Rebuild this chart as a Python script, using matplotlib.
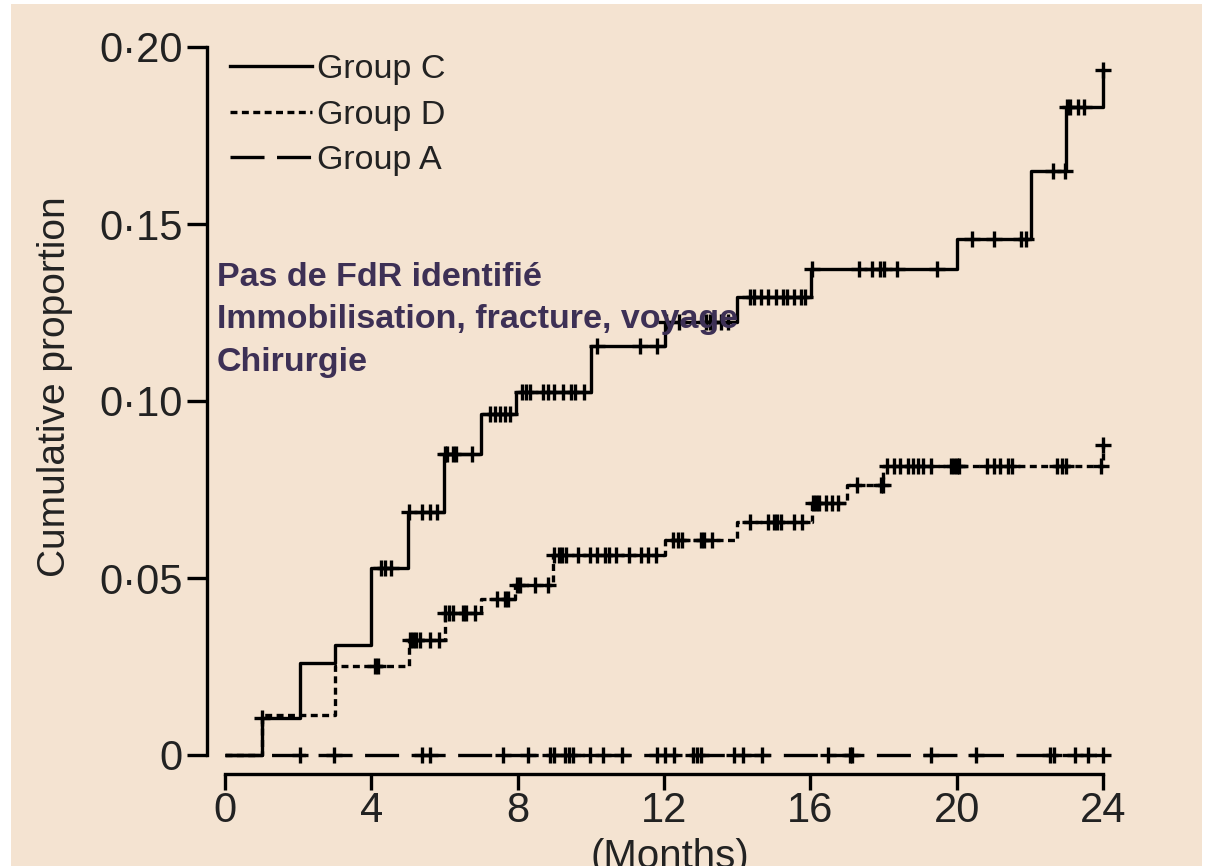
import matplotlib
matplotlib.use('Agg')
import matplotlib.pyplot as plt
import numpy as np
from matplotlib.lines import Line2D
from matplotlib.patches import Rectangle

plt.rcParams['font.family'] = ['Liberation Sans', 'DejaVu Sans']
plt.rcParams['lines.scale_dashes'] = False

# ---------------- data ----------------
x_ticks = [0, 4, 8, 12, 16, 20, 24]
y_ticks = [0, 0.05, 0.10, 0.15, 0.20]
y_tick_labels = ['0', '0\u00b705', '0\u00b710', '0\u00b715', '0\u00b720']
legend_labels = ['Group C', 'Group D', 'Group A']
annotation_lines = ['Pas de FdR identifi\u00e9', 'Immobilisation, fracture, voyage', 'Chirurgie']

# Group C (solid)
c_times = [1.0, 2.05, 3.0, 4.0, 5.0, 5.99, 7.0, 7.95, 10.0, 12.04, 14.0, 16.03, 20.0, 22.02, 23.0, 23.99]
c_vals = [0.0104, 0.0259, 0.0311, 0.0527, 0.0687, 0.0850, 0.0962, 0.1026, 0.1155, 0.1222,
          0.1295, 0.1372, 0.1458, 0.1649, 0.1831, 0.1935]
c_end = 24.0
c_censor = [1.0, 4.27, 4.37, 4.55, 5.02, 5.38, 5.6, 5.79, 6.0, 6.06, 6.22, 6.31, 6.74,
            7.24, 7.38, 7.52, 7.66, 7.79, 8.13, 8.23, 8.33, 8.7, 8.82, 8.98, 9.25, 9.47, 9.58, 9.82,
            10.18, 11.35, 11.8, 12.06, 12.4, 13.15, 13.25, 13.38, 13.55, 13.75,
            14.35, 14.45, 14.65, 14.85, 15.05, 15.25, 15.35, 15.55, 15.75, 15.85,
            16.05, 17.33, 17.69, 17.9, 18.02, 18.37, 19.46, 20.42, 21.02, 21.77, 21.9,
            22.63, 22.97, 23.02, 23.1, 23.31, 23.47, 24.0]

# Group D (short dashes)
d_times = [1.0, 3.0, 5.04, 6.0, 7.0, 7.92, 8.97, 12.03, 14.0, 16.05, 17.0, 18.0, 23.99]
d_vals = [0.0113, 0.0251, 0.0325, 0.0400, 0.0440, 0.0480, 0.0565, 0.0607, 0.0659, 0.0713,
          0.0763, 0.0816, 0.0876]
d_end = 24.0
d_censor = [4.1, 4.18, 5.07, 5.15, 5.23, 5.32, 5.6, 5.86, 6.0, 6.12, 6.22, 6.51, 6.6, 6.83,
            7.43, 7.65, 7.74, 7.97, 8.07, 8.47, 8.84, 8.98, 9.13, 9.22, 9.31, 9.66, 9.98, 10.16,
            10.4, 10.5, 10.69, 11.03, 11.37, 11.57, 11.78, 12.24, 12.38, 12.48, 13.0, 13.1, 13.3,
            14.35, 14.85, 15.0, 15.1, 15.2, 15.54, 15.77, 16.07, 16.15, 16.24, 16.42, 16.58, 16.75,
            17.27, 17.92, 17.98, 18.09, 18.29, 18.45, 18.68, 18.8, 18.95, 19.08, 19.3,
            19.85, 19.93, 20.0, 20.07, 20.84, 21.02, 21.19, 21.4, 21.52, 22.74, 22.88, 22.98,
            23.94, 24.0]

# Group A (long dashes, no events)
a_times = []
a_vals = []
a_end = 24.0
a_censor = [2.05, 2.99, 5.38, 5.6, 7.61, 8.29, 8.88, 8.98, 9.3, 9.4, 9.5, 9.98, 10.34, 10.84,
            11.8, 12.03, 12.26, 12.8, 12.9, 13.0, 13.9, 14.17, 14.67, 16.49, 17.08, 17.15,
            19.3, 20.53, 22.55, 22.65, 23.24, 23.58, 24.0]

# ---------------- style ----------------
W, H = 1208, 866
BG = '#F4E3D1'
TXT = '#222222'
PURPLE = '#3d3055'
LW = 2.4
styles = {
    'C': dict(linestyle='-'),
    'D': dict(linestyle=(0, (5.0, 3.2))),
    'A': dict(linestyle=(0, (24.5, 9.0))),
}

fig = plt.figure(figsize=(W / 100, H / 100), dpi=100, facecolor='white')
fig.patches.append(Rectangle((11 / W, 0), (1202 - 11) / W, (866 - 4) / H,
                             transform=fig.transFigure, facecolor=BG,
                             edgecolor='none', zorder=-10))

ax = fig.add_axes([225 / W, 1 - 755 / H, 878 / W, 708 / H])
ax.patch.set_visible(False)
ax.set_xlim(0, 24)
ax.set_ylim(0, 0.2)


def km_xy(times, vals, end):
    x = np.r_[0.0, np.asarray(times, float), end]
    y = np.r_[0.0, np.asarray(vals, float), (vals[-1] if len(vals) else 0.0)]
    return x, y


def censor_xy(times, vals, ct):
    ct = np.asarray(ct, float)
    idx = np.searchsorted(np.asarray(times, float), ct, side='right')
    levels = np.r_[0.0, np.asarray(vals, float)]
    return ct, levels[idx]


for key, (t, v, e, cs) in {'A': (a_times, a_vals, a_end, a_censor),
                           'D': (d_times, d_vals, d_end, d_censor),
                           'C': (c_times, c_vals, c_end, c_censor)}.items():
    x, y = km_xy(t, v, e)
    ax.step(x, y, where='post', color='black', lw=LW, clip_on=False,
            solid_capstyle='butt', dash_capstyle='butt', **styles[key])
    cx, cy = censor_xy(t, v, cs)
    ax.plot(cx, cy, linestyle='none', marker='+', color='black', ms=11.5, mew=LW,
            clip_on=False)

# axes styling
for s in ['top', 'right']:
    ax.spines[s].set_visible(False)
ax.spines['left'].set_position(('outward', 18 * 0.72))
ax.spines['bottom'].set_position(('outward', 19 * 0.72))
ax.spines['left'].set_bounds(0, 0.2)
ax.spines['bottom'].set_bounds(0, 24)
for s in ['left', 'bottom']:
    ax.spines[s].set_linewidth(LW)

ax.set_xticks(x_ticks)
ax.set_xticklabels([str(v) for v in x_ticks])
ax.set_yticks(y_ticks)
ax.set_yticklabels(y_tick_labels)
ax.tick_params(axis='y', length=20 * 0.72, width=LW, direction='out', pad=3,
               labelsize=30, labelcolor=TXT)
ax.tick_params(axis='x', length=16 * 0.72, width=LW, direction='out', pad=1,
               labelsize=30, labelcolor=TXT)

# axis labels
fig.text(55 / W, 1 - 387 / H, 'Cumulative proportion', rotation=90, ha='center',
         va='center', fontsize=28, color=TXT)
fig.text(670 / W, 1 - 838 / H, '(Months)', ha='center', va='top', fontsize=29, color=TXT)

# legend
handles = [Line2D([], [], color='black', lw=LW, **styles[k]) for k in ['C', 'D', 'A']]
leg = ax.legend(handles, legend_labels, loc='upper left',
                bbox_to_anchor=(5 / 878, 1.0 - 7 / 708),
                frameon=False, borderpad=0, borderaxespad=0, handlelength=2.4,
                handletextpad=0.15, labelspacing=0.43, fontsize=24.5)
for txt in leg.get_texts():
    txt.set_color(TXT)

# annotation text
for i, line in enumerate(annotation_lines):
    fig.text(217 / W, 1 - (277 + 42.5 * i) / H, line, ha='left', va='center',
             fontsize=24.5, fontweight='bold', color=PURPLE, zorder=10)

fig.savefig('out.png', dpi=100, facecolor='white')
